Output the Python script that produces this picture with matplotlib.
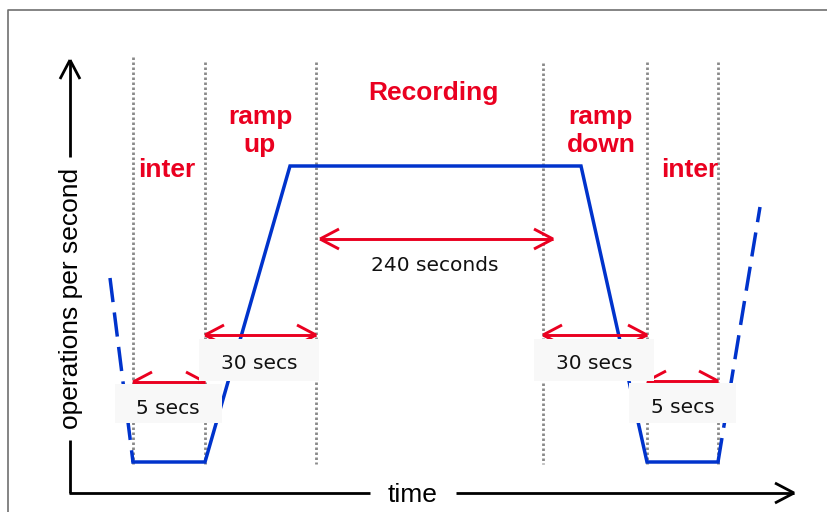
import numpy as np
import matplotlib.pyplot as plt

# diagram laid out in picture coordinates (x right, y down)
phase_x = [133, 205, 316, 543, 647, 718]
phase_top = [57, 62, 62, 63, 62, 62]
phase_bottom = 464

profile_x = [133, 205, 290, 581, 647, 718]
profile_y = [462, 462, 166, 166, 462, 462]
lead_x = [110, 133]
lead_y = [278, 462]
tail_x = [718, 760]
tail_y = [462, 207]

phase_labels = ['inter', 'ramp', 'up', 'Recording', 'ramp', 'down', 'inter']
phase_label_x = [167, 260, 260, 433, 600, 601, 690]
phase_label_y = [177, 124, 152, 100, 124, 152, 177]

span_labels = ['240 seconds', '30 secs', '30 secs', '5 secs', '5 secs']
span_x0 = [320, 205, 543, 133, 647]
span_x1 = [553, 316, 647, 205, 718]
span_y = [239, 335, 335, 382, 381]
span_text_x = [435, 259, 594, 168, 683]
span_text_y = [271, 369, 369, 414, 413]
# white boxes behind the span labels (x0, y0, x1, y1)
boxes = [None, (199, 339, 319, 381), (534, 339, 654, 381),
         (115, 384, 222, 423), (629, 383, 736, 423)]

RED = '#ea0020'
BLUE = '#0033cc'


def arrow_head(ax, tip, back, color, lw, length, half, zorder):
    tip = np.array(tip, float)
    d = np.array(back, float) - tip
    d = d / np.hypot(*d)
    n = np.array([-d[1], d[0]])
    for s in (1, -1):
        p = tip + d * length + n * half * s
        ax.plot([tip[0], p[0]], [tip[1], p[1]], color=color, lw=lw,
                solid_capstyle='butt', zorder=zorder)


fig = plt.figure(figsize=(8.28, 5.12), dpi=100)
ax = fig.add_axes([0, 0, 1, 1])
ax.set_xlim(0, 828)
ax.set_ylim(512, 0)
ax.axis('off')

# frame
ax.plot([8, 8, 828], [512, 10, 10], color='#707070', lw=1.2)

# phase boundaries
for x, top in zip(phase_x, phase_top):
    ax.plot([x, x], [top, phase_bottom], color='#8a8a8a', lw=2,
            linestyle=(0, (0.9, 0.9)), zorder=1)

# workload profile
ax.plot(profile_x, profile_y, color=BLUE, lw=2.5, zorder=2,
        solid_joinstyle='miter')
ax.plot(lead_x, lead_y, color=BLUE, lw=2.5, linestyle=(0, (7, 3)), zorder=2)
ax.plot(tail_x, tail_y, color=BLUE, lw=2.5, linestyle=(0, (7, 3)), zorder=2)

# axes arrows
ax.plot([70, 70], [493, 440], color='black', lw=2, solid_capstyle='butt')
ax.plot([70, 70], [157, 60], color='black', lw=2, solid_capstyle='butt')
arrow_head(ax, (70, 60), (70, 157), 'black', 2, 19, 10, 3)
ax.plot([69, 370], [493, 493], color='black', lw=2, solid_capstyle='butt')
ax.plot([456, 794], [493, 493], color='black', lw=2, solid_capstyle='butt')
arrow_head(ax, (794, 493), (456, 493), 'black', 2, 19, 10, 3)
ax.text(78, 298, 'operations per second', rotation=90, rotation_mode='anchor',
        ha='center', va='baseline', fontsize=19, family='Liberation Sans')
ax.text(413, 502, 'time', ha='center', va='baseline', fontsize=19,
        family='Liberation Sans')

# phase names
for t, x, y in zip(phase_labels, phase_label_x, phase_label_y):
    ax.text(x, y, t, ha='center', va='baseline', fontsize=19,
            fontweight='bold', color=RED, family='Liberation Sans', zorder=5)

# spans
for t, x0, x1, y, tx, ty, b in zip(span_labels, span_x0, span_x1, span_y,
                                   span_text_x, span_text_y, boxes):
    ax.plot([x0, x1], [y, y], color=RED, lw=2.1, solid_capstyle='butt',
            zorder=3)
    arrow_head(ax, (x0, y), (x1, y), RED, 2.1, 19, 10, 3)
    arrow_head(ax, (x1, y), (x0, y), RED, 2.1, 19, 10, 3)
    if b is not None:
        ax.add_patch(plt.Rectangle((b[0], b[1]), b[2] - b[0], b[3] - b[1],
                                   facecolor='#f8f8f8', edgecolor='none',
                                   zorder=4))
    ax.text(tx, ty, t, ha='center', va='baseline', fontsize=14.5,
            color='#111111', family='DejaVu Sans', zorder=5)

fig.savefig('out.png', dpi=100)
